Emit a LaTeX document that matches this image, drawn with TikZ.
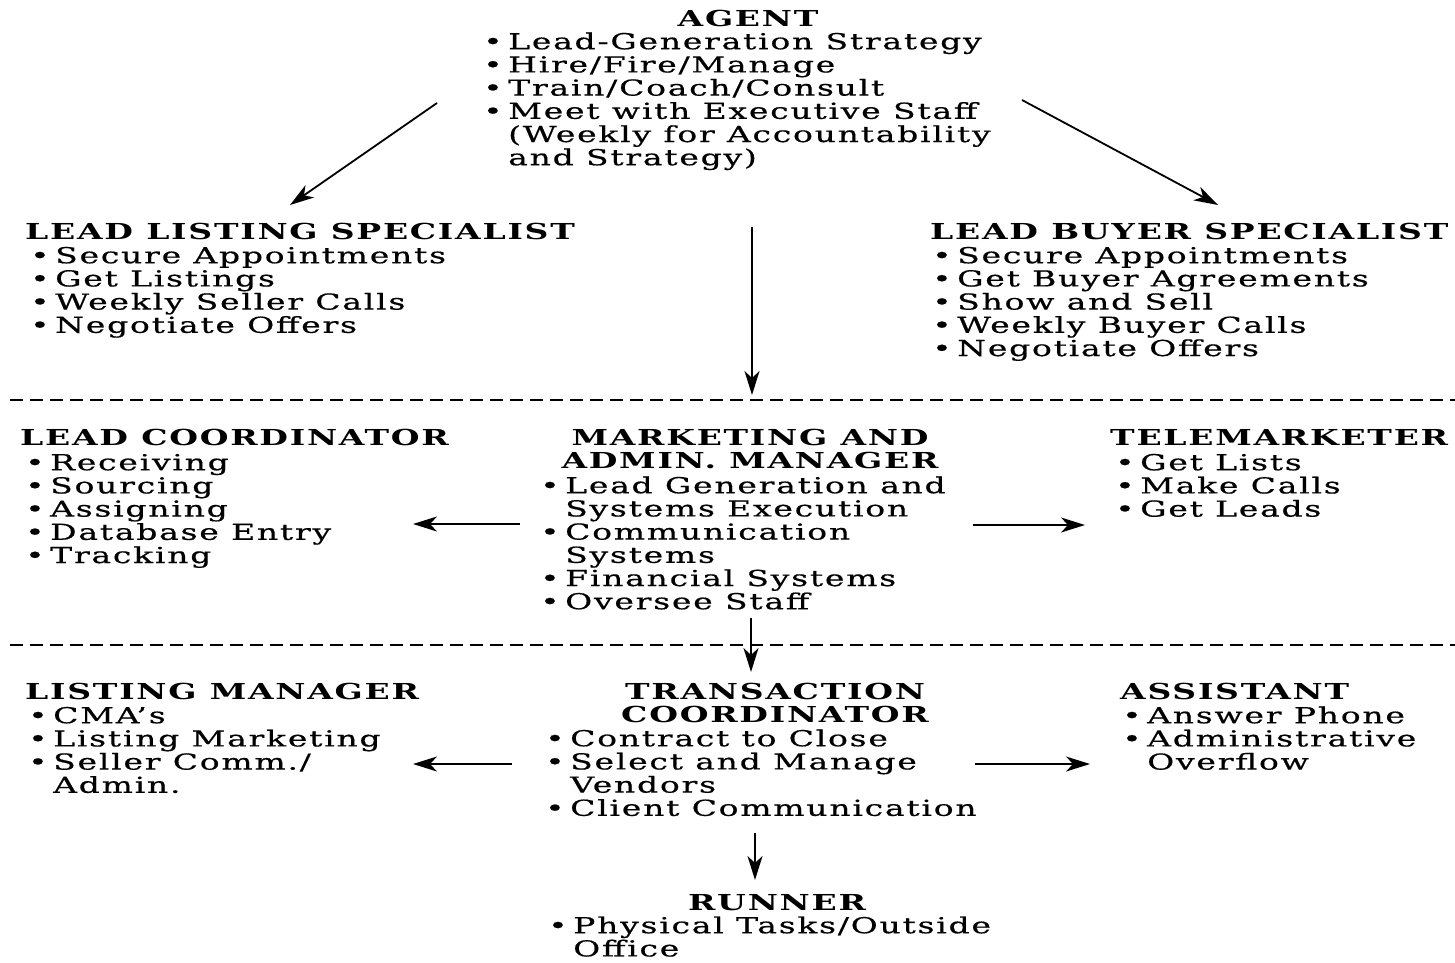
\documentclass[tikz,border=0pt]{standalone}
\usepackage{fontspec}
\setmainfont{DejaVu Serif}[FakeStretch=1.5, LetterSpace=8,
    UprightFeatures={FakeBold=0.6}]
\usetikzlibrary{arrows.meta}

\newcommand\basefont{\fontsize{22pt}{23.2pt}\selectfont}
\newcommand\bul{\makebox[25pt][l]{\textbullet}}
\newcommand\ind{\hspace*{25pt}}
\newcommand\ts{\rule{0pt}{18pt}}

\tikzset{
  every node/.style={font=\basefont, inner sep=0pt},
  hd/.style={font=\basefont\bfseries},
  lst/.style={align=left, anchor=north west},
  arr/.style={-{Stealth[length=24pt,width=15pt,inset=7pt]}, line width=1.8pt},
  sep/.style={dashed, dash pattern=on 13pt off 7pt, line width=1.2pt}
}

\begin{document}
\begin{tikzpicture}[x=1pt, y=-1pt]
    \useasboundingbox (0,0) rectangle (1455,962);

    % Agent
    \node[hd, anchor=base] (agenthd) at (748,26) {AGENT};
    \node[lst] (agent) at (483,31) {\ts\bul Lead-Generation Strategy\\
        \bul Hire/Fire/Manage\\ \bul Train/Coach/Consult\\
        \bul Meet with Executive Staff\\ \ind (Weekly for Accountability\\
        \ind and Strategy)};

    % Lead specialists
    \node[hd, anchor=base west] (llshd) at (25,239) {LEAD LISTING SPECIALIST};
    \node[lst] (lls) at (30,245) {\ts\bul Secure Appointments\\
        \bul Get Listings\\ \bul Weekly Seller Calls\\ \bul Negotiate Offers};

    \node[hd, anchor=base west] (lbshd) at (930,239) {LEAD BUYER SPECIALIST};
    \node[lst] (lbs) at (932,245) {\ts\bul Secure Appointments\\
        \bul Get Buyer Agreements\\ \bul Show and Sell\\
        \bul Weekly Buyer Calls\\ \bul Negotiate Offers};

    % Separators
    \draw[sep] (10,400) -- (1455,400);
    \draw[sep] (10,645) -- (1455,645);

    % Middle row
    \node[hd, anchor=base west] (lchd) at (20,445) {LEAD COORDINATOR};
    \node[lst] (lc) at (25,452) {\ts\bul Receiving\\ \bul Sourcing\\
        \bul Assigning\\ \bul Database Entry\\ \bul Tracking};

    \node[hd, align=center, anchor=north] (mamhd) at (750,427)
        {\ts MARKETING AND\\ ADMIN. MANAGER};
    \node[lst] (mam) at (540,475) {\ts\bul Lead Generation and\\
        \ind Systems Execution\\ \bul Communication\\ \ind Systems\\
        \bul Financial Systems\\ \bul Oversee Staff};

    \node[hd, anchor=base west] (telhd) at (1110,445) {TELEMARKETER};
    \node[lst] (tel) at (1115,452) {\ts\bul Get Lists\\ \bul Make Calls\\
        \bul Get Leads};

    % Lower row
    \node[hd, anchor=base west] (lmhd) at (25,699) {LISTING MANAGER};
    \node[lst] (lm) at (28,705) {\ts\bul CMA's\\ \bul Listing Marketing\\
        \bul Seller Comm./\\ \ind Admin.};

    \node[hd, align=center, anchor=north] (tchd) at (775,681)
        {\ts TRANSACTION\\ COORDINATOR};
    \node[lst] (tc) at (545,728) {\ts\bul Contract to Close\\
        \bul Select and Manage\\ \ind Vendors\\ \bul Client Communication};

    \node[hd, anchor=base west] (ashd) at (1120,699) {ASSISTANT};
    \node[lst] (as) at (1122,705) {\ts\bul Answer Phone\\
        \bul Administrative\\ \ind Overflow};

    % Runner
    \node[hd, anchor=base] (runhd) at (777,910) {RUNNER};
    \node[lst] (run) at (548,915) {\ts\bul Physical Tasks/Outside\\
        \ind Office};

    % Arrow ends
    \coordinate (agentL) at (437,103);
    \coordinate (agentR) at (1022,100);
    \coordinate (agentB) at (752,227);
    \coordinate (llsT) at (290,205);
    \coordinate (lbsT) at (1218,205);
    \coordinate (mamT) at (752,395);
    \coordinate (mamL) at (520,524);
    \coordinate (mamR) at (973,525);
    \coordinate (mamB) at (751,618);
    \coordinate (lcR) at (413,524);
    \coordinate (telL) at (1085,525);
    \coordinate (tcT) at (751,672);
    \coordinate (tcL) at (512,764);
    \coordinate (tcR) at (975,764);
    \coordinate (tcB) at (755,833);
    \coordinate (lmR) at (413,764);
    \coordinate (asL) at (1090,764);
    \coordinate (runT) at (755,880);

    % Arrows
    \draw[arr] (agentL) -- (llsT);
    \draw[arr] (agentR) -- (lbsT);
    \draw[arr] (agentB) -- (mamT);
    \draw[arr] (mamL) -- (lcR);
    \draw[arr] (mamR) -- (telL);
    \draw[arr] (mamB) -- (tcT);
    \draw[arr] (tcL) -- (lmR);
    \draw[arr] (tcR) -- (asL);
    \draw[arr] (tcB) -- (runT);
\end{tikzpicture}
\end{document}
